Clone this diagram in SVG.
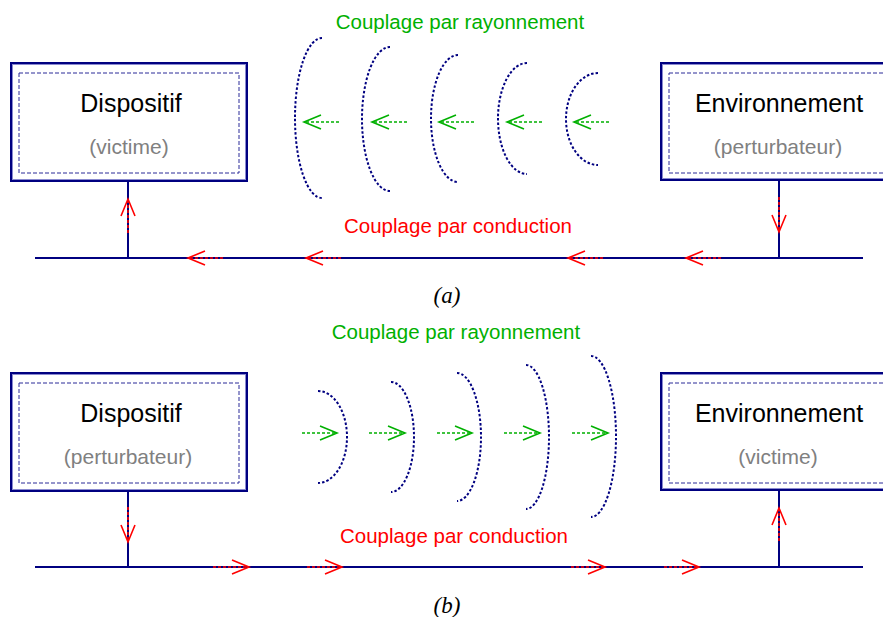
<svg xmlns="http://www.w3.org/2000/svg" width="883" height="617" viewBox="0 0 883 617">
<style>
.outer{fill:#fff;stroke:#000080;stroke-width:2}
.inner2{fill:none;stroke:#8a8ad0;stroke-width:1}
.dash{fill:none;stroke:#2a2a98;stroke-width:1;stroke-dasharray:4,2}
.wire{fill:none;stroke:#000080;stroke-width:2}
.wave{fill:none;stroke:#000080;stroke-width:2;stroke-dasharray:2.5,2}
.ra{fill:none;stroke:#ff0000;stroke-width:1.6;stroke-dasharray:3,2;marker-end:url(#hr)}
.ga{fill:none;stroke:#00b000;stroke-width:1.6;stroke-dasharray:3,2;marker-end:url(#hg)}
.t1{font-family:"Liberation Sans",Arial,sans-serif;font-size:25px;fill:#000;text-anchor:middle}
.t2{font-family:"Liberation Sans",Arial,sans-serif;font-size:21px;fill:#808080;text-anchor:middle}
.tg{font-family:"Liberation Sans",Arial,sans-serif;font-size:20.5px;fill:#00b000;text-anchor:middle}
.tr{font-family:"Liberation Sans",Arial,sans-serif;font-size:20.5px;fill:#ff0000;text-anchor:middle}
.tc{font-family:"Liberation Serif","Times New Roman",serif;font-size:23px;font-style:italic;fill:#000;text-anchor:middle}
</style>
<defs>
<marker id="hr" markerUnits="userSpaceOnUse" markerWidth="20" markerHeight="18" refX="17" refY="8" orient="auto" overflow="visible">
<path d="M0,1 L17,8 L0,15" fill="none" stroke="#ff0000" stroke-width="1.6"/>
</marker>
<marker id="hg" markerUnits="userSpaceOnUse" markerWidth="20" markerHeight="18" refX="17" refY="8" orient="auto" overflow="visible">
<path d="M0,1 L17,8 L0,15" fill="none" stroke="#00b000" stroke-width="1.6"/>
</marker>
</defs>

<!-- (a) -->
<g id="connectors-a">
<path class="wire" d="M35,258 H863 M128,181 V258 M779,181 V258"/>
<path class="wave" d="M322,38 A27,80 0 0 0 322,198"/>
<path class="wave" d="M390,47 A28,72 0 0 0 390,191"/>
<path class="wave" d="M458,55 A27,63.5 0 0 0 458,182"/>
<path class="wave" d="M527,63 A29,55.5 0 0 0 527,174"/>
<path class="wave" d="M598,73 A32,46 0 0 0 598,165"/>
<path class="ga" d="M339,122 H304"/>
<path class="ga" d="M407,122 H372"/>
<path class="ga" d="M474,122 H439"/>
<path class="ga" d="M542,122 H507"/>
<path class="ga" d="M609,122 H574"/>
<path class="ra" d="M223,258 H188"/>
<path class="ra" d="M341,258 H306"/>
<path class="ra" d="M603,258 H568"/>
<path class="ra" d="M721,258 H686"/>
<path class="ra" d="M128,233 V199"/>
<path class="ra" d="M779,197 V232"/>
</g>
<g id="dispositif-a">
<rect class="outer" x="11" y="63" width="236" height="118"/>
<rect class="inner2" x="12.5" y="64.5" width="233" height="115"/>
<rect class="dash" x="19" y="73" width="220" height="100"/>
<text class="t1" x="131" y="112">Dispositif</text>
<text class="t2" x="129" y="154">(victime)</text>
</g>
<g id="environnement-a">
<rect class="outer" x="661" y="63" width="260" height="117"/>
<rect class="inner2" x="662.5" y="64.5" width="257" height="114"/>
<rect class="dash" x="669" y="73" width="240" height="100"/>
<text class="t1" x="779" y="112">Environnement</text>
<text class="t2" x="778" y="154">(perturbateur)</text>
</g>
<g id="labels-a">
<text class="tg" x="460" y="29">Couplage par rayonnement</text>
<text class="tr" x="458" y="233">Couplage par conduction</text>
<text class="tc" x="447" y="303">(a)</text>
</g>

<!-- (b) -->
<g id="connectors-b">
<path class="wire" d="M35,567 H863 M128,491 V567 M779,491 V567"/>
<path class="wave" d="M318,391 A29,46 0 0 1 318,483"/>
<path class="wave" d="M391,382 A23,55 0 0 1 391,492"/>
<path class="wave" d="M457,373 A24,64 0 0 1 457,501"/>
<path class="wave" d="M526,365 A23,72 0 0 1 526,509"/>
<path class="wave" d="M591,356 A25,80.5 0 0 1 591,517"/>
<path class="ga" d="M302,433 H337"/>
<path class="ga" d="M369,433 H405"/>
<path class="ga" d="M437,433 H472"/>
<path class="ga" d="M504,433 H540"/>
<path class="ga" d="M572,433 H608"/>
<path class="ra" d="M213,567 H249"/>
<path class="ra" d="M307,567 H342"/>
<path class="ra" d="M571,567 H605"/>
<path class="ra" d="M664,567 H699"/>
<path class="ra" d="M128,507 V542"/>
<path class="ra" d="M779,541 V508"/>
</g>
<g id="dispositif-b">
<rect class="outer" x="11" y="373" width="236" height="118"/>
<rect class="inner2" x="12.5" y="374.5" width="233" height="115"/>
<rect class="dash" x="19" y="383" width="220" height="100"/>
<text class="t1" x="131" y="422">Dispositif</text>
<text class="t2" x="128" y="464">(perturbateur)</text>
</g>
<g id="environnement-b">
<rect class="outer" x="661" y="373" width="260" height="117"/>
<rect class="inner2" x="662.5" y="374.5" width="257" height="114"/>
<rect class="dash" x="669" y="383" width="240" height="100"/>
<text class="t1" x="779" y="422">Environnement</text>
<text class="t2" x="778" y="464">(victime)</text>
</g>
<g id="labels-b">
<text class="tg" x="456" y="339">Couplage par rayonnement</text>
<text class="tr" x="454" y="543">Couplage par conduction</text>
<text class="tc" x="447" y="613">(b)</text>
</g>
</svg>
